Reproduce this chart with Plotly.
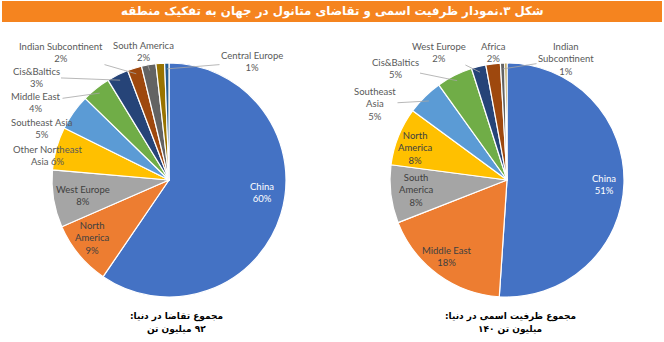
import math
import plotly.graph_objects as go

# ---------------- data ----------------
demand_regions = ["China", "North America", "West Europe", "Other Northeast Asia",
                  "Southeast Asia", "Middle East", "Cis&Baltics", "Indian Subcontinent",
                  "South America", "Africa", "Central Europe"]
demand_share = [60, 9, 8, 6, 5, 4, 3, 2, 2, 1.2, 0.6]
demand_labels = ["China<br>60%", "North<br>America<br>9%", "West Europe<br>8%",
                 "Other Northeast<br>Asia 6%", "Southeast Asia<br>5%", "Middle East<br>4%",
                 "Cis&Baltics<br>3%", "Indian Subcontinent<br>2%", "South America<br>2%",
                 "", "Central Europe<br>1%"]

capacity_regions = ["China", "Middle East", "South America", "North America",
                    "Southeast Asia", "Cis&Baltics", "West Europe", "Africa",
                    "Indian Subcontinent", "Central Europe"]
capacity_share = [51, 18, 8, 8, 5, 5, 2, 2, 0.6, 0.3]
capacity_labels = ["China<br>51%", "Middle East<br>18%", "South<br>America<br>8%",
                   "North<br>America<br>8%", "Southeast<br>Asia<br>5%", "Cis&Baltics<br>5%",
                   "West Europe<br>2%", "Africa<br>2%", "Indian<br>Subcontinent<br>1%", ""]

title_text = "\u200fشکل ۳.نمودار ظرفیت اسمی و تقاضای متانول در جهان به تفکیک منطقه\u200f"
demand_caption = ["\u200fمجموع تقاضا در دنیا:\u200f", "\u200f۹۲ میلیون تن\u200f"]
capacity_caption = ["\u200fمجموع ظرفیت اسمی در دنیا:\u200f", "\u200fمیلیون تن ۱۴۰\u200f"]

# ---------------- style / layout ----------------
palette = ["#4472C4", "#ED7D31", "#A5A5A5", "#FFC000", "#5B9BD5", "#70AD47",
           "#264478", "#9E480E", "#636363", "#997300", "#255E91"]

W, H = 664, 342
RAD = 117
PIE_TOP, PIE_BOT = 63, 297
CY = (PIE_TOP + PIE_BOT) / 2

# label placement (pixel centres), whether inside slice, whether leader line
demand_label_pos = [(262, 192), (92, 238), (83, 195), (48, 155), (42, 128), (36, 102),
                    (36, 77), (61, 52), (143, 52), None, (252, 62)]
demand_inside = [True, True, True, False, False, False, False, False, False, False, False]
demand_leader = [False, False, False, False, False, True, True, True, True, False, True]

capacity_label_pos = [(604, 184), (447, 256), (416, 190), (415, 148), (375, 104), (395, 68),
                      (439, 52), (493, 52), (566, 59), None]
capacity_inside = [True, True, True, True, False, False, False, False, False, False]
capacity_leader = [False, False, False, False, True, True, True, False, True, False]

LABEL_FONT = "Lato, 'Open Sans', sans-serif"

fig = go.Figure()
annotations = []


def add_pie(regions, share, labels, pos, inside, leader, cx):
    fig.add_trace(go.Pie(
        labels=regions, values=share, textinfo="none",
        sort=False, direction="clockwise", rotation=0,
        marker=dict(colors=palette[:len(regions)], line=dict(color="white", width=1.2)),
        domain=dict(x=[(cx - RAD) / W, (cx + RAD) / W], y=[1 - PIE_BOT / H, 1 - PIE_TOP / H]),
        showlegend=False, automargin=False, hoverinfo="label+value",
    ))
    total = sum(share)
    cum = 0.0
    for reg, s, lab, p, ins, lead in zip(regions, share, labels, pos, inside, leader):
        mid = (cum + s / 2) / total * 2 * math.pi
        cum += s
        if p is None or not lab:
            continue
        color = "white" if reg == "China" else ("#404040" if ins else "#595959")
        ann = dict(text=lab, xref="paper", yref="paper",
                   font=dict(family=LABEL_FONT, size=9.5, color=color),
                   xanchor="center", yanchor="middle", align="center")
        if lead:
            hx = cx + 0.95 * RAD * math.sin(mid)
            hy = CY - 0.95 * RAD * math.cos(mid)
            ann.update(x=hx / W, y=1 - hy / H, showarrow=True, arrowhead=0,
                       arrowwidth=0.8, arrowcolor="#A6A6A6",
                       ax=p[0] - hx, ay=p[1] - hy, standoff=0, startstandoff=0)
        else:
            ann.update(x=p[0] / W, y=1 - p[1] / H, showarrow=False)
        annotations.append(ann)


add_pie(demand_regions, demand_share, demand_labels, demand_label_pos,
        demand_inside, demand_leader, 169)
add_pie(capacity_regions, capacity_share, capacity_labels, capacity_label_pos,
        capacity_inside, capacity_leader, 507)

shapes = [dict(type="rect", xref="paper", yref="paper",
               x0=2 / W, x1=662 / W, y0=1 - 22 / H, y1=1 - 1 / H,
               fillcolor="#F5841F", line=dict(width=0), layer="below")]

annotations.append(dict(text="<b>" + title_text + "</b>", x=332 / W, y=1 - 11.5 / H,
                        xref="paper", yref="paper", showarrow=False,
                        font=dict(family="DejaVu Sans", size=11.8, color="white"),
                        xanchor="center", yanchor="middle"))
for lines, cx in [(demand_caption, 176), (capacity_caption, 510)]:
    for i, t in enumerate(lines):
        annotations.append(dict(text="<b>" + t + "</b>", x=cx / W, y=1 - (316.5 + 13 * i) / H,
                                xref="paper", yref="paper", showarrow=False,
                                font=dict(family="DejaVu Sans", size=9, color="black"),
                                xanchor="center", yanchor="middle"))

fig.update_layout(width=W, height=H, margin=dict(l=0, r=0, t=0, b=0),
                  paper_bgcolor="white", plot_bgcolor="white",
                  shapes=shapes, annotations=annotations)

fig.write_html("out.html", config={"displayModeBar": False})
